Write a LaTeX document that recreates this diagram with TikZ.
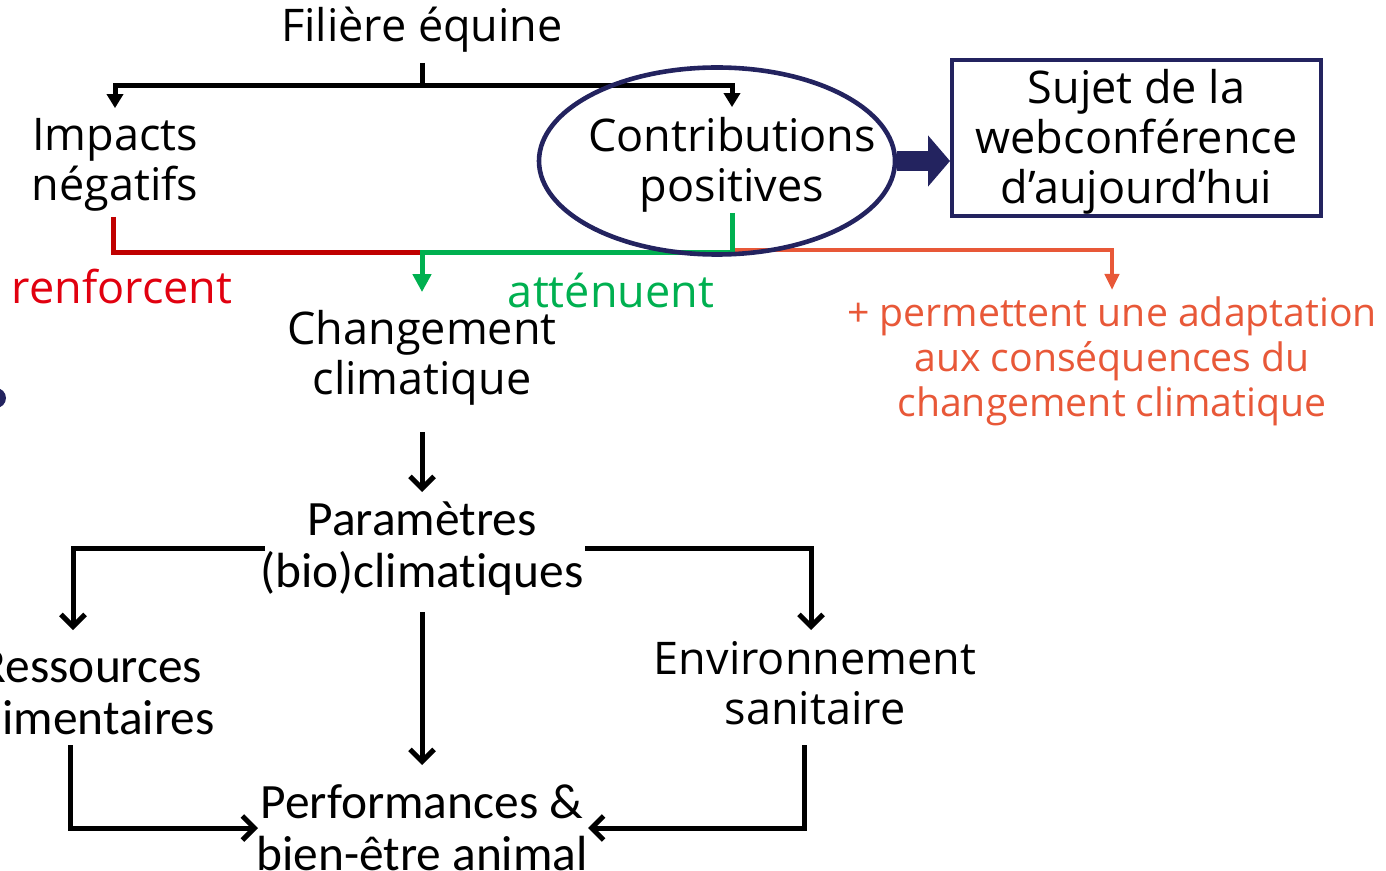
\documentclass[tikz,border=0pt]{standalone}
\usepackage{fontspec}
\setmainfont{Open Sans}
\newfontfamily\calfont{Carlito}[Ligatures=NoCommon]
\usetikzlibrary{arrows.meta,shapes.geometric}
\definecolor{navy}{RGB}{35,35,95}
\definecolor{redl}{RGB}{192,0,0}
\definecolor{redt}{RGB}{225,0,15}
\definecolor{greenl}{RGB}{0,176,80}
\definecolor{orng}{RGB}{232,88,56}
\begin{document}
\begin{tikzpicture}[x=0.5pt,y=-0.5pt,
  mtxt/.style={font=\fontsize{22.5}{25}\selectfont, align=center, inner sep=0pt},
  ctxt/.style={font=\calfont\fontsize{24.7}{26}\selectfont, align=center, inner sep=0pt},
  flow/.style={line width=2.5pt, -{Triangle[length=7pt,width=8pt]}},
  barb/.style={line width=2.5pt, -{Straight Barb[length=6pt,width=12pt]}},
  seg/.style={line width=2.5pt}]
\useasboundingbox (0,0) rectangle (1386,871);
\clip (0,0) rectangle (1386,871);
% nodes
\node[mtxt] (fil) at (422,30) {Filière équine};
\node[mtxt] (imp) at (115,165) {Impacts\\négatifs};
\node[mtxt] (con) at (732,165) {Contributions\\positives};
\node[draw=navy, line width=2pt, minimum width=184.5pt, minimum height=78pt, inner sep=0pt] (box) at (1136.5,138) {};
\node[mtxt] (suj) at (1136.5,142) {Sujet de la\\webconférence\\d’aujourd’hui};
\node[mtxt, text=redt] (ren) at (122,287) {renforcent};
\node[mtxt, text=greenl] (att) at (611,290) {atténuent};
\node[mtxt] (chg) at (422,358) {Changement\\climatique};
\node[font=\fontsize{19.6}{22.5}\selectfont, text=orng, align=center, inner sep=0pt] (adp) at (1112,361) {+ permettent une adaptation\\aux conséquences du\\changement climatique};
\node[ctxt] (par) at (422,549) {Paramètres\\(bio)climatiques};
\node[ctxt] (res) at (91,693) {Ressources\\alimentaires};
\node[mtxt] (env) at (815,683) {Environnement\\sanitaire};
\node[ctxt] (perf) at (422,828) {Performances \&\\bien-être animal};
% top connectors
\coordinate (fork) at (422,86);
\draw[seg] (fil.center) ++(0,33) -- (fork);
\draw[flow] (fork) -| ([yshift=5pt]imp.north);
\draw[flow] (fork) -| ([yshift=5pt]con.north);
% red / green / orange
\coordinate (join) at (422,253);
\draw[seg, redl] (imp.center) ++(-2,52) |- (join);
\draw[line width=2pt, orng, -{Triangle[length=8pt,width=7pt]}] (con.center) ++(0,85) -| ([yshift=3pt]adp.north);
\draw[line width=2.5pt, greenl, -{Triangle[length=9pt,width=9pt]}] (con.center) ++(0,48) |- (join) -- ([yshift=9pt]chg.north);
% ellipse and thick arrow
\node[draw=navy, line width=2.3pt, ellipse, minimum width=178pt, minimum height=93.5pt] (oval) at (717,161) {};
\draw[navy, line width=10pt, -{Triangle[length=11pt,width=25pt]}] (oval.east) -- (oval.east -| box.west);
% bottom connectors
\draw[barb] (chg.center) ++(0,74) -- ++(0,60);
\draw[barb] (par.center) ++(-157,-1) -- ++(-192,0) -- ++(0,82);
\draw[barb] (par.center) ++(163,-1) -- ++(226,0) -- ++(0,82);
\draw[barb] (par.center) ++(0,63) -- ++(0,153);
\draw[barb] (res.center) ++(-21,52) -- ++(0,83) -- ++(188,0);
\draw[barb] (env.center) ++(-11,62) -- ++(0,83) -- ++(-216,0);
% partial dot at left edge
\fill[navy] (-4,398) circle (10);
\end{tikzpicture}
\end{document}
